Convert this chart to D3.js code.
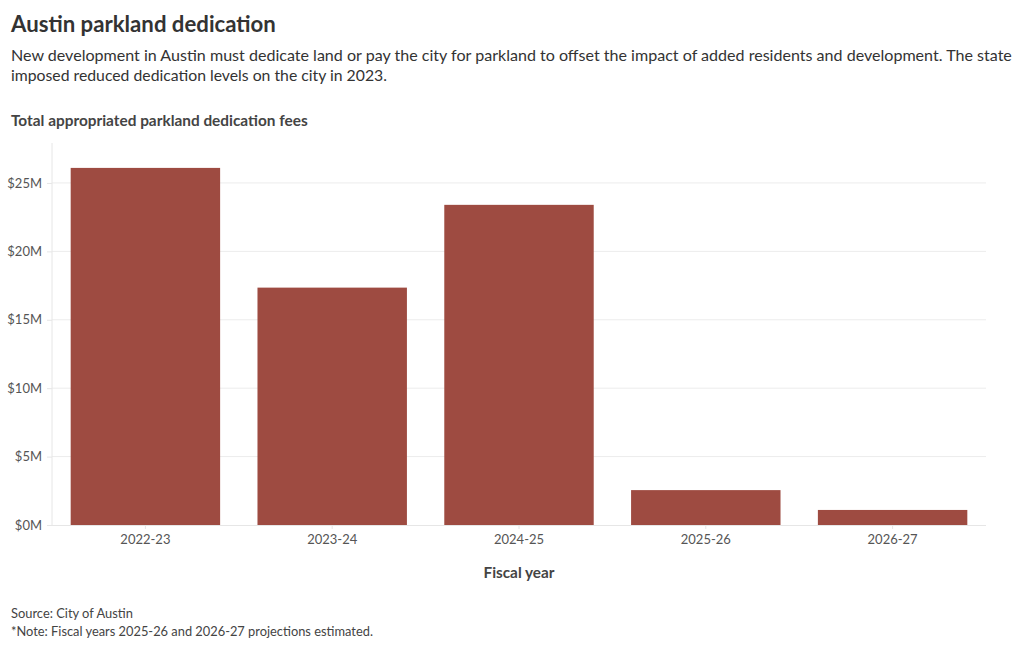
<!DOCTYPE html>
<html><head><meta charset="utf-8">
<script src="https://cdn.jsdelivr.net/npm/d3@7"></script>
<style>
body{margin:0;background:#fff;font-family:Lato,"Noto Sans",sans-serif;}
svg text{font-family:Lato,"Noto Sans",sans-serif;}
</style></head><body>
<svg id="chart" width="1020" height="650"></svg>
<script>
const categories = ["2022-23","2023-24","2024-25","2025-26","2026-27"];
const values = [26.1, 17.35, 23.4, 2.55, 1.1]; // millions USD
const yTicks = [0,5,10,15,20,25];

const svg = d3.select("#chart");
const margin = {left:52, right:34, top:143, bottom:125};
const W = 1020, H = 650;
const x = d3.scaleBand().domain(categories).range([margin.left, W-margin.right]).paddingInner(0.2).paddingOuter(0.1);
const y = d3.scaleLinear().domain([0, 27.92]).range([H-margin.bottom, margin.top]);

// fit text to a target width by adjusting font size
function fit(sel, target){
  const node = sel.node();
  const base = +sel.attr("font-size");
  const w = node.getComputedTextLength();
  if (w > 0) sel.attr("font-size", (base * target / w).toFixed(2));
  return sel;
}
function txt(xp, yp, size, weight, fill, s, target){
  const t = svg.append("text").attr("x",xp).attr("y",yp).attr("font-size",size)
    .attr("font-weight",weight).attr("fill",fill).text(s);
  if (target) fit(t, target);
  return t;
}

// titles
txt(11,32,24,700,"#333","Austin parkland dedication",265);
txt(11,61,16,400,"#333","New development in Austin must dedicate land or pay the city for parkland to offset the impact of added residents and development. The state",1001);
txt(11,81,16,400,"#333","imposed reduced dedication levels on the city in 2023.",376);
txt(11,126,15,700,"#444","Total appropriated parkland dedication fees",297);

// gridlines
svg.append("g").selectAll("line").data(yTicks.filter(d=>d>0)).join("line")
  .attr("x1",margin.left).attr("x2",W-margin.right)
  .attr("y1",d=>y(d)).attr("y2",d=>y(d))
  .attr("stroke","#ececec").attr("stroke-width",1);

// y axis
const yAxis = svg.append("g").attr("transform",`translate(${margin.left},0)`)
  .call(d3.axisLeft(y).tickValues(yTicks).tickFormat(d=>`$${d}M`).tickSize(5).tickPadding(5));
yAxis.select(".domain").attr("stroke","#e6e6e6").attr("d",`M0,${margin.top}V${y(0)}`);
yAxis.selectAll(".tick line").attr("stroke","#e6e6e6");
yAxis.selectAll(".tick text").attr("font-size",13).attr("fill","#555");

// bars
svg.append("g").selectAll("rect").data(categories).join("rect")
  .attr("x",d=>x(d)).attr("width",x.bandwidth())
  .attr("y",(d,i)=>y(values[i])).attr("height",(d,i)=>y(0)-y(values[i]))
  .attr("fill","#9e4b41");

// x axis
const xAxis = svg.append("g").attr("transform",`translate(0,${y(0)})`)
  .call(d3.axisBottom(x).tickSize(4).tickPadding(6));
xAxis.select(".domain").attr("stroke","#e6e6e6").attr("d",`M${margin.left},0.5H${W-margin.right}`);
xAxis.selectAll(".tick line").attr("stroke","#e6e6e6");
xAxis.selectAll(".tick text").attr("font-size",13).attr("fill","#555");

txt((margin.left+W-margin.right)/2,578,15,700,"#444","Fiscal year",71).attr("text-anchor","middle");

txt(11,618,13,400,"#444","Source: City of Austin",122);
txt(11,636,13,400,"#444","*Note: Fiscal years 2025-26 and 2026-27 projections estimated.",362);
</script>
</body></html>
